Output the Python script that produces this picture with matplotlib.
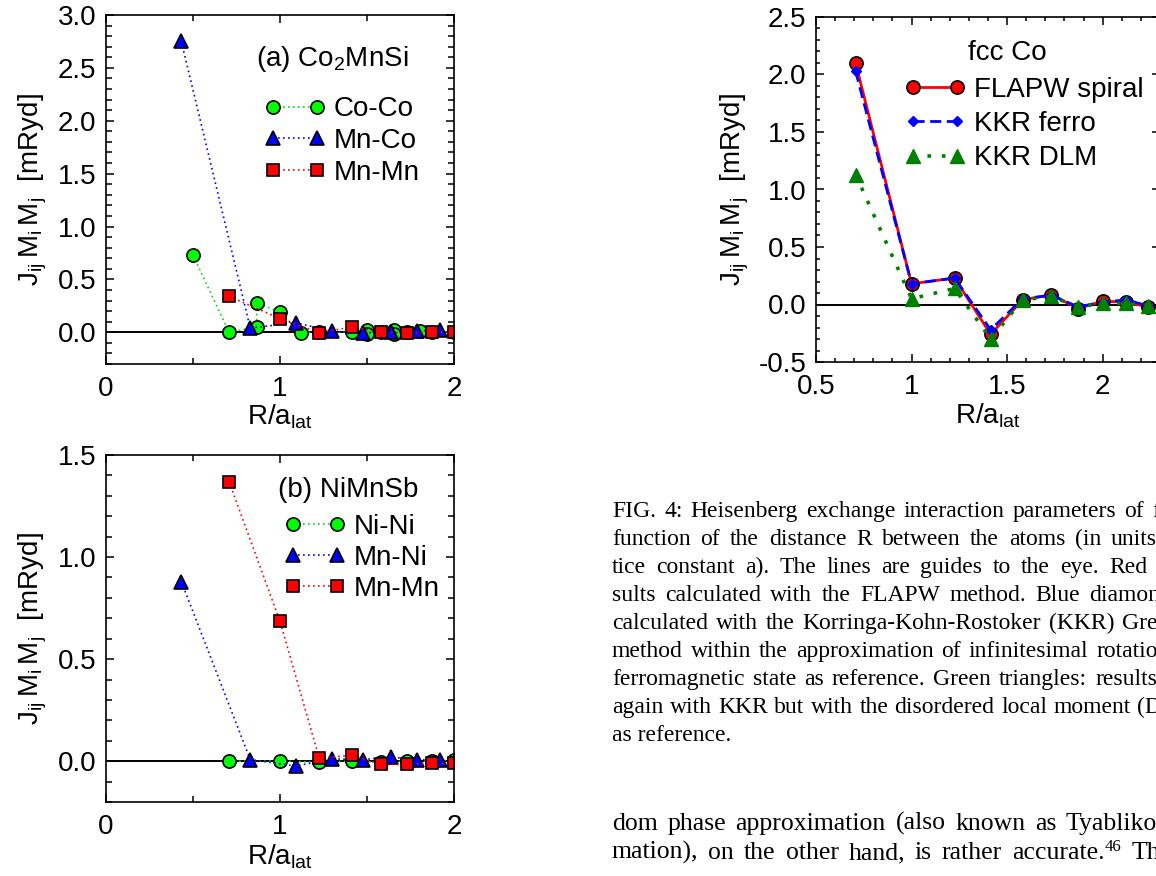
import matplotlib
matplotlib.use("Agg")
import matplotlib.pyplot as plt
from matplotlib.ticker import MultipleLocator, FormatStrFormatter

plt.rcParams['font.family'] = 'Liberation Sans'
plt.rcParams['axes.unicode_minus'] = False

# (a) Co2MnSi
a_coco_r = [0.5, 0.707, 0.866, 0.866, 1.0, 1.118, 1.225, 1.414, 1.5, 1.5,
            1.581, 1.658, 1.658, 1.732, 1.803, 1.871, 2.0]
a_coco_j = [0.73, 0.0, 0.05, 0.28, 0.19, -0.005, 0.0, 0.0, 0.02, -0.02,
            0.0, 0.02, -0.02, 0.0, 0.01, 0.0, 0.0]
a_mnco_r = [0.433, 0.829, 1.090, 1.299, 1.479, 1.639, 1.785, 1.920]
a_mnco_j = [2.75, 0.04, 0.09, 0.01, -0.005, 0.0, 0.01, 0.025]
a_mnmn_r = [0.707, 1.0, 1.225, 1.414, 1.581, 1.732, 1.871, 2.0]
a_mnmn_j = [0.34, 0.13, -0.005, 0.05, 0.0, -0.005, 0.0, 0.0]

# (b) NiMnSb
b_nini_r = [0.707, 1.0, 1.225, 1.414, 1.581, 1.732, 1.871, 2.0]
b_nini_j = [0.0, 0.0, -0.005, 0.0, -0.005, 0.0, 0.0, 0.005]
b_mnni_r = [0.433, 0.829, 1.090, 1.299, 1.479, 1.639, 1.785, 1.920]
b_mnni_j = [0.88, 0.008, -0.024, 0.011, 0.008, 0.02, 0.008, 0.005]
b_mnmn_r = [0.707, 1.0, 1.225, 1.414, 1.581, 1.732, 1.871, 2.0]
b_mnmn_j = [1.37, 0.685, 0.016, 0.028, -0.016, -0.016, -0.011, -0.011]

# fcc Co
c_r = [0.707, 1.0, 1.225, 1.414, 1.581, 1.732, 1.871, 2.0, 2.121, 2.236]
c_flapw = [2.10, 0.18, 0.23, -0.26, 0.04, 0.085, -0.035, 0.03, 0.02, -0.02]
c_ferro = [2.03, 0.18, 0.23, -0.22, 0.05, 0.08, -0.02, 0.02, 0.04, -0.01]
c_dlm = [1.13, 0.05, 0.14, -0.30, 0.04, 0.07, -0.02, 0.01, 0.01, -0.01]

# text lines, with the x (px) where the last visible word ends (None = ragged)
# "^" inside a word marks a superscript
caption = [
    ("FIG. 4: Heisenberg exchange interaction parameters of f", 1160),
    ("function of the distance R between the atoms (in units", 1157),
    ("tice constant a). The lines are guides to the eye. Red", 1147),
    ("sults calculated with the FLAPW method. Blue diamon", 1160),
    ("calculated with the Korringa-Kohn-Rostoker (KKR) Gre", 1158),
    ("method within the approximation of infinitesimal rotatio", 1158),
    ("ferromagnetic state as reference. Green triangles: results", 1157),
    ("again with KKR but with the disordered local moment (D", 1162),
    ("as reference.", None),
]
body = [
    ("dom phase approximation (also known as Tyabliko", 1157),
    ("mation), on the other hand, is rather accurate.^46 Th", 1160),
]

W, H = 1156, 876
fig = plt.figure(figsize=(W / 100, H / 100), dpi=100)


def px_axes(l, t, r, b):
    return fig.add_axes([l / W, 1 - b / H, (r - l) / W, (b - t) / H])


ylab = r'$\mathregular{J_{ij}\,M_i\,M_j}$  [mRyd]'
xlab = r'R/a$_{\mathregular{lat}}$'
FS = 20


def style(ax, minor_len=4):
    ax.tick_params(which='both', direction='in', top=True, right=True,
                   labelsize=FS, width=1.1)
    ax.tick_params(which='major', length=5.5, pad=7)
    ax.tick_params(axis='x', which='major', pad=9)
    ax.tick_params(which='minor', length=minor_len)
    for s in ax.spines.values():
        s.set_linewidth(1.2)
    ax.axhline(0, color='black', lw=1.4, zorder=1)


def legend(ax, x, y, sp=0.2):
    ax.legend(loc='center left', bbox_to_anchor=(x, y), frameon=False,
              numpoints=2, fontsize=FS, handlelength=2.2, handletextpad=0.3,
              labelspacing=sp, borderpad=0, borderaxespad=0)


dot = (0, (1, 2))
mk = dict(markeredgecolor='black', markeredgewidth=1.2)

# ---- panel (a)
ax = px_axes(106, 15, 454, 364)
ax.plot(a_coco_r, a_coco_j, ls=dot, lw=1.2, color='#00dd00', marker='o',
        ms=9.5, markerfacecolor='#00ff00', label='Co-Co', **mk)
ax.plot(a_mnco_r, a_mnco_j, ls=dot, lw=1.2, color='#0000ff', marker='^',
        ms=9.5, markerfacecolor='#0000ff', label='Mn-Co', **mk)
ax.plot(a_mnmn_r, a_mnmn_j, ls=dot, lw=1.2, color='#ff0000', marker='s',
        ms=8.5, markerfacecolor='#ff0000', label='Mn-Mn', **mk)
ax.set_xlim(0, 2)
ax.set_ylim(-0.3, 3.0)
ax.xaxis.set_major_locator(MultipleLocator(1))
ax.xaxis.set_minor_locator(MultipleLocator(0.5))
ax.yaxis.set_major_locator(MultipleLocator(0.5))
ax.yaxis.set_minor_locator(MultipleLocator(0.1))
ax.yaxis.set_major_formatter(FormatStrFormatter('%.1f'))
style(ax)
ax.set_ylabel(ylab, fontsize=FS)
ax.set_xlabel(xlab, fontsize=FS)
ax.yaxis.set_label_coords(-0.165, 0.5)
ax.xaxis.set_label_coords(0.5, -0.11)
ax.text(0.431, 0.874, r'(a) Co$_{\mathregular{2}}$MnSi', transform=ax.transAxes,
        fontsize=FS, va='center', ha='left')
legend(ax, 0.4555, 0.639)

# ---- panel (b)
ax = px_axes(106, 455, 454, 802)
ax.plot(b_nini_r, b_nini_j, ls=dot, lw=1.2, color='#00dd00', marker='o',
        ms=9.5, markerfacecolor='#00ff00', label='Ni-Ni', **mk)
ax.plot(b_mnni_r, b_mnni_j, ls=dot, lw=1.2, color='#0000ff', marker='^',
        ms=9.5, markerfacecolor='#0000ff', label='Mn-Ni', **mk)
ax.plot(b_mnmn_r, b_mnmn_j, ls=dot, lw=1.2, color='#ff0000', marker='s',
        ms=8.5, markerfacecolor='#ff0000', label='Mn-Mn', **mk)
ax.set_xlim(0, 2)
ax.set_ylim(-0.2, 1.5)
ax.xaxis.set_major_locator(MultipleLocator(1))
ax.xaxis.set_minor_locator(MultipleLocator(0.5))
ax.yaxis.set_major_locator(MultipleLocator(0.5))
ax.yaxis.set_minor_locator(MultipleLocator(0.1))
ax.yaxis.set_major_formatter(FormatStrFormatter('%.1f'))
style(ax)
ax.set_ylabel(ylab, fontsize=FS)
ax.set_xlabel(xlab, fontsize=FS)
ax.yaxis.set_label_coords(-0.165, 0.5)
ax.xaxis.set_label_coords(0.5, -0.115)
ax.text(0.494, 0.899, '(b) NiMnSb', transform=ax.transAxes,
        fontsize=FS, va='center', ha='left')
legend(ax, 0.513, 0.703, sp=0.18)

# ---- panel (c) fcc Co
ax = px_axes(816, 17, 1160, 362)
ax.plot(c_r, c_flapw, ls='-', lw=2, color='#ff0000', marker='o', ms=9.5,
        markerfacecolor='#ff0000', label='FLAPW spiral', **mk)
ax.plot(c_r, c_ferro, ls=(0, (4, 2)), lw=2, color='#0000ff', marker='D',
        ms=5, markerfacecolor='#0000ff', markeredgecolor='#0000ff',
        label='KKR ferro')
ax.plot(c_r, c_dlm, ls=(0, (1, 3)), lw=2.6, color='#008000', marker='^',
        ms=10, markerfacecolor='#008000', markeredgecolor='#008000',
        label='KKR DLM')
ax.set_xlim(0.5, 2.3)
ax.set_ylim(-0.5, 2.5)
ax.xaxis.set_major_locator(MultipleLocator(0.5))
ax.xaxis.set_minor_locator(MultipleLocator(0.1))
ax.xaxis.set_major_formatter(FormatStrFormatter('%g'))
ax.yaxis.set_major_locator(MultipleLocator(0.5))
ax.yaxis.set_minor_locator(MultipleLocator(0.1))
ax.yaxis.set_major_formatter(FormatStrFormatter('%.1f'))
style(ax, minor_len=3)
ax.set_ylabel(ylab, fontsize=FS)
ax.set_xlabel(xlab, fontsize=FS)
ax.yaxis.set_label_coords(-0.19, 0.5)
ax.xaxis.set_label_coords(0.5, -0.115)
ax.text(0.442, 0.896, 'fcc Co', transform=ax.transAxes,
        fontsize=FS, va='center', ha='left')
legend(ax, 0.2573, 0.69, sp=0.3)

# ---- caption and body text, justified word by word
serif = dict(family='Liberation Serif', fontsize=17, va='baseline', ha='left')
renderer = fig.canvas.get_renderer()


def put_word(word, base, fs):
    # returns the text pieces of one word and their widths in px
    main, _, sup = word.partition('^')
    style_ = dict(serif, fontsize=fs)
    pieces = [fig.text(0, 1 - base / H, main, **style_)]
    if sup:
        s = dict(style_, fontsize=fs * 0.65)
        pieces.append(fig.text(0, 1 - (base - 8) / H, sup, **s))
    widths = [p.get_window_extent(renderer).width for p in pieces]
    return pieces, widths


def put_line(line, x0, base, right, fs=17):
    if right is None:
        fig.text(x0 / W, 1 - base / H, line, **dict(serif, fontsize=fs))
        return
    words = [put_word(w, base, fs) for w in line.split(' ')]
    total = sum(sum(ws) for _, ws in words)
    gap = (right - x0 - total) / (len(words) - 1)
    x = x0
    for pieces, ws in words:
        for p, w in zip(pieces, ws):
            p.set_x(x / W)
            x += w
        x += gap


for i, (line, right) in enumerate(caption):
    put_line(line, 612, 517 + 28 * i, right)
for i, (line, right) in enumerate(body):
    put_line(line, 612, 830 + 29 * i, right, fs=18.5)

fig.savefig('out.png', dpi=100)
